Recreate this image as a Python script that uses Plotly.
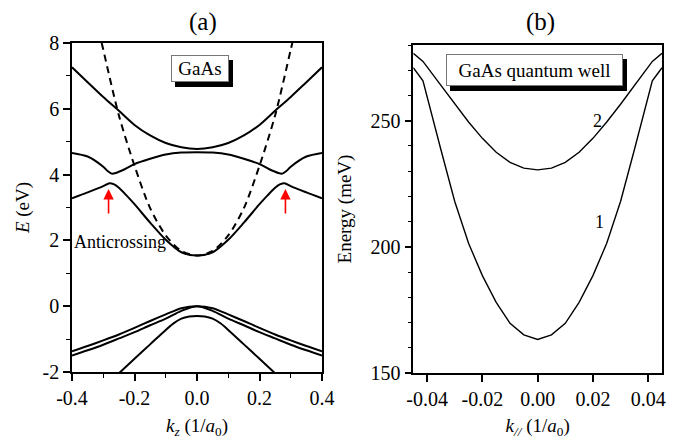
import plotly.graph_objects as go

# ---------------- Panel (a) data ----------------
k_c1 = [-0.4, -0.35, -0.3, -0.25, -0.2, -0.15, -0.1, -0.05, 0.0, 0.05, 0.1, 0.15, 0.2, 0.25, 0.3, 0.35, 0.4]
e_c1 = [7.26, 6.81, 6.36, 5.94, 5.51, 5.19, 4.96, 4.83, 4.78, 4.83, 4.96, 5.19, 5.51, 5.94, 6.36, 6.81, 7.26]

k_c2 = [-0.4, -0.35, -0.3, -0.285, -0.273, -0.26, -0.23, -0.2, -0.15, -0.1, -0.05, 0.0,
        0.05, 0.1, 0.15, 0.2, 0.23, 0.26, 0.273, 0.285, 0.3, 0.35, 0.4]
e_c2 = [4.66, 4.55, 4.24, 4.10, 4.03, 4.05, 4.17, 4.32, 4.48, 4.61, 4.67, 4.68,
        4.67, 4.61, 4.48, 4.32, 4.17, 4.05, 4.03, 4.10, 4.24, 4.55, 4.66]

k_c3 = [-0.4, -0.35, -0.3, -0.28, -0.265, -0.25, -0.225, -0.2, -0.15, -0.1, -0.05, 0.0,
        0.05, 0.1, 0.15, 0.2, 0.225, 0.25, 0.265, 0.28, 0.3, 0.35, 0.4]
e_c3 = [3.28, 3.46, 3.65, 3.74, 3.70, 3.60, 3.36, 3.10, 2.54, 2.02, 1.64, 1.54,
        1.64, 2.02, 2.54, 3.10, 3.36, 3.60, 3.70, 3.74, 3.65, 3.46, 3.28]

k_free = [-0.305, -0.3, -0.25, -0.2, -0.15, -0.1, -0.05, 0.0, 0.05, 0.1, 0.15, 0.2, 0.25, 0.3, 0.305]
e_free = [8.0, 7.8, 5.8, 4.27, 2.98, 2.15, 1.68, 1.54, 1.68, 2.15, 2.98, 4.27, 5.8, 7.8, 8.0]

k_v = [-0.4, -0.35, -0.3, -0.25, -0.2, -0.15, -0.1, -0.05, 0.0, 0.05, 0.1, 0.15, 0.2, 0.25, 0.3, 0.35, 0.4]
e_hh = [-1.37, -1.21, -1.04, -0.86, -0.66, -0.45, -0.25, -0.06, 0.0, -0.06, -0.25, -0.45, -0.66, -0.86, -1.04, -1.21, -1.37]
e_lh = [-1.50, -1.34, -1.17, -0.98, -0.79, -0.58, -0.38, -0.14, 0.0, -0.14, -0.38, -0.58, -0.79, -0.98, -1.17, -1.34, -1.50]

k_so = [-0.25, -0.2, -0.15, -0.1, -0.075, -0.05, -0.025, 0.0, 0.025, 0.05, 0.075, 0.1, 0.15, 0.2, 0.25]
e_so = [-2.04, -1.60, -1.16, -0.72, -0.52, -0.38, -0.315, -0.30, -0.315, -0.38, -0.52, -0.72, -1.16, -1.60, -2.04]

arrow_k = [-0.283, 0.283]
arrow_tip = 3.56
arrow_tail = 2.77

# ---------------- Panel (b) data ----------------
k_qw = [-0.045, -0.0415, -0.035, -0.03, -0.025, -0.02, -0.015, -0.01, -0.005, 0.0,
        0.005, 0.01, 0.015, 0.02, 0.025, 0.03, 0.035, 0.0415, 0.045]
e_qw1 = [271.0, 265.8, 238.5, 218.0, 201.4, 188.6, 178.0, 169.7, 165.1, 163.3,
         165.1, 169.7, 178.0, 188.6, 201.4, 218.0, 238.5, 265.8, 271.0]
e_qw2 = [276.7, 273.5, 264.0, 256.5, 249.5, 243.0, 237.5, 233.5, 231.2, 230.5,
         231.2, 233.5, 237.5, 243.0, 249.5, 256.5, 264.0, 273.5, 276.7]

# tick labels
xa_vals = [-0.4, -0.2, 0.0, 0.2, 0.4]
xa_text = ["-0.4", "-0.2", "0.0", "0.2", "0.4"]
ya_vals = [-2, 0, 2, 4, 6, 8]
ya_text = ["-2", "0", "2", "4", "6", "8"]
xb_vals = [-0.04, -0.02, 0.0, 0.02, 0.04]
xb_text = ["-0.04", "-0.02", "0.00", "0.02", "0.04"]
yb_vals = [150, 200, 250]
yb_text = ["150", "200", "250"]

FONT = "Liberation Serif, Times New Roman, serif"
W, H = 681, 439

fig = go.Figure()
lw = 2.0
for kk, ee in [(k_c1, e_c1), (k_c2, e_c2), (k_c3, e_c3), (k_v, e_hh), (k_v, e_lh), (k_so, e_so)]:
    fig.add_trace(go.Scatter(x=kk, y=ee, mode="lines", line=dict(color="black", width=lw, shape="spline", smoothing=0.8),
                             xaxis="x", yaxis="y", showlegend=False, hoverinfo="skip"))
fig.add_trace(go.Scatter(x=k_free, y=e_free, mode="lines",
                         line=dict(color="black", width=lw, dash="7px,5px", shape="spline", smoothing=0.8),
                         xaxis="x", yaxis="y", showlegend=False, hoverinfo="skip"))

for ee in [e_qw1, e_qw2]:
    fig.add_trace(go.Scatter(x=k_qw, y=ee, mode="lines", line=dict(color="black", width=1.4),
                             xaxis="x2", yaxis="y2", showlegend=False, hoverinfo="skip"))

# domains from pixel positions
xa_dom = [72 / W, 322 / W]
ya_dom = [1 - 372 / H, 1 - 43 / H]
xb_dom = [413.3 / W, 662 / W]
yb_dom = [1 - 373 / H, 1 - 45 / H]

tickfont = dict(family=FONT, size=20, color="black")
titlefont = dict(family=FONT, size=19, color="black")
common = dict(showline=True, linecolor="black", linewidth=1.5, showgrid=False, zeroline=False,
              ticks="outside", ticklen=7, tickwidth=1.5, tickcolor="black", tickfont=tickfont,
              mirror=True, tickmode="array", automargin=False)
over = dict(showline=False, showgrid=False, zeroline=False, ticks="inside", ticklen=7, tickwidth=1.5,
            tickcolor="black", showticklabels=False, tickmode="array", automargin=False)

XA = [-0.4, 0.4]
YA = [-2, 8]
XB = [-0.045, 0.045]
YB = [150, 280]

fig.update_layout(
    width=W, height=H, margin=dict(l=0, r=0, t=0, b=0, autoexpand=False),
    paper_bgcolor="white", plot_bgcolor="white",
    xaxis=dict(**common, domain=xa_dom, anchor="y", range=XA, tickvals=xa_vals, ticktext=xa_text,
               minor=dict(ticks="outside", ticklen=4, tickwidth=1.2, tickcolor="black", tick0=-0.3, dtick=0.2),
               title=dict(text="<i>k</i><sub><i>z</i></sub> (1/<i>a</i><sub>0</sub>)", font=titlefont, standoff=12)),
    yaxis=dict(**common, domain=ya_dom, anchor="x", range=YA, tickvals=ya_vals, ticktext=ya_text,
               minor=dict(ticks="outside", ticklen=4, tickwidth=1.2, tickcolor="black", tick0=-1, dtick=2),
               title=dict(text="<i>E</i> (eV)", font=titlefont, standoff=8)),
    xaxis3=dict(**over, overlaying="x", side="top", anchor="y", range=XA, tickvals=xa_vals,
                minor=dict(ticks="inside", ticklen=4, tickwidth=1.2, tickcolor="black", tick0=-0.3, dtick=0.2)),
    yaxis3=dict(**over, overlaying="y", side="right", anchor="x", range=YA, tickvals=ya_vals,
                minor=dict(ticks="inside", ticklen=4, tickwidth=1.2, tickcolor="black", tick0=-1, dtick=2)),
    xaxis2=dict(**common, domain=xb_dom, anchor="y2", range=XB, tickvals=xb_vals, ticktext=xb_text,
                title=dict(text="<i>k</i><sub><i>//</i></sub> (1/<i>a</i><sub>0</sub>)", font=titlefont, standoff=12)),
    yaxis2=dict(**common, domain=yb_dom, anchor="x2", range=YB, tickvals=yb_vals, ticktext=yb_text,
                minor=dict(ticks="outside", ticklen=4, tickwidth=1.2, tickcolor="black", tick0=150, dtick=10),
                title=dict(text="Energy (meV)", font=titlefont, standoff=14)),
    xaxis4=dict(**over, overlaying="x2", side="top", anchor="y2", range=XB, tickvals=xb_vals),
    yaxis4=dict(**over, overlaying="y2", side="right", anchor="x2", range=YB, tickvals=yb_vals,
                minor=dict(ticks="inside", ticklen=4, tickwidth=1.2, tickcolor="black", tick0=150, dtick=10)),
)

ann = []
# panel titles
ann.append(dict(text="(a)", xref="paper", yref="paper", x=203 / W, y=1 - 22 / H, showarrow=False,
                font=dict(family=FONT, size=25, color="black"), xanchor="center", yanchor="middle"))
ann.append(dict(text="(b)", xref="paper", yref="paper", x=540 / W, y=1 - 22 / H, showarrow=False,
                font=dict(family=FONT, size=25, color="black"), xanchor="center", yanchor="middle"))

# legend-like boxes with shadows
def boxed(text, x, y, xr, yr, w, h):
    ann.append(dict(text=text, x=x, y=y, xref=xr, yref=yr, showarrow=False, xshift=4, yshift=-5,
                    font=dict(family=FONT, size=19, color="black"), bgcolor="black",
                    width=w, height=h, borderpad=0, borderwidth=1, bordercolor="black"))
    ann.append(dict(text=text, x=x, y=y, xref=xr, yref=yr, showarrow=False,
                    font=dict(family=FONT, size=19, color="black"), bgcolor="white",
                    width=w, height=h, borderpad=0, borderwidth=1, bordercolor="#777777"))

boxed("GaAs", 0.01, 7.24, "x", "y", 56, 25)
boxed("GaAs quantum well", -0.0013, 270, "x2", "y2", 175, 30)

ann.append(dict(text="Anticrossing", x=-0.246, y=1.96, xref="x", yref="y", showarrow=False,
                font=dict(family=FONT, size=18, color="black")))
for ak in arrow_k:
    ann.append(dict(text="", x=ak, y=arrow_tip, ax=ak, ay=arrow_tail, xref="x", yref="y", axref="x", ayref="y",
                    showarrow=True, arrowhead=2, arrowsize=1.3, arrowwidth=1.6, arrowcolor="red"))

ann.append(dict(text="1", x=0.0223, y=210, xref="x2", yref="y2", showarrow=False,
                font=dict(family=FONT, size=18, color="black")))
ann.append(dict(text="2", x=0.0217, y=250, xref="x2", yref="y2", showarrow=False,
                font=dict(family=FONT, size=18, color="black")))

fig.update_layout(annotations=ann)
fig.write_html("out.html", config={"displayModeBar": False},
               post_script="document.body.style.margin='0px';")
